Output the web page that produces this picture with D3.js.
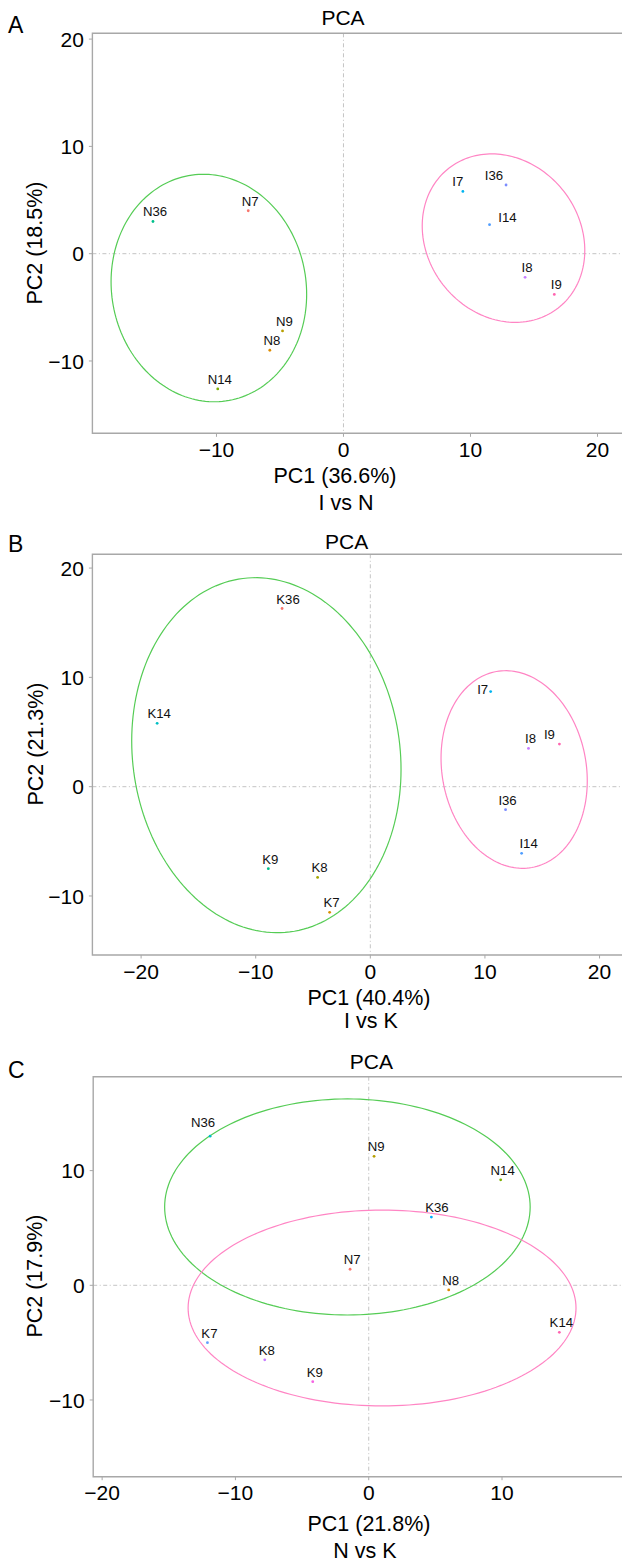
<!DOCTYPE html>
<html>
<head>
<meta charset="utf-8">
<script src="https://cdn.jsdelivr.net/npm/d3@7"></script>
<style>
    body { margin: 0; background: #fff; }
    svg { display: block; font-family: "Liberation Sans", Arial, sans-serif; }
</style>
</head>
<body>
<div id="chart"></div>
<script>
// ---- data ----
// A: I vs N
var namesA = ['N36', 'N7', 'N9', 'N8', 'N14', 'I7', 'I36', 'I14', 'I8', 'I9'];
var pc1A = [-15.0, -7.5, -4.8, -5.8, -9.9, 9.4, 12.8, 11.5, 14.3, 16.6];
var pc2A = [3.0, 4.0, -7.2, -9.0, -12.6, 5.8, 6.4, 2.7, -2.2, -3.8];
// ellipses: [centre x, centre y, half width, half height, correlation]
var ellipsesA = [[-10.6, -3.2, 7.7, 10.6, -0.055], [12.6, 1.45, 6.4, 7.85, -0.145]];

// B: I vs K
var namesB = ['K36', 'K14', 'K9', 'K8', 'K7', 'I7', 'I8', 'I9', 'I36', 'I14'];
var pc1B = [-7.7, -18.6, -8.9, -4.6, -3.55, 10.5, 13.8, 16.5, 11.8, 13.2];
var pc2B = [16.3, 5.8, -7.5, -8.3, -11.5, 8.7, 3.5, 3.9, -2.1, -6.1];
var ellipsesB = [[-9.07, 2.88, 11.75, 16.24, -0.08], [12.55, 1.57, 6.38, 9.04, -0.115]];

// C: N vs K
var namesC = ['N36', 'N9', 'N14', 'K36', 'N7', 'N8', 'K14', 'K7', 'K8', 'K9'];
var pc1C = [-11.9, 0.4, 9.9, 4.7, -1.4, 6.0, 14.3, -12.1, -7.8, -4.2];
var pc2C = [13.0, 11.25, 9.2, 5.95, 1.4, -0.4, -4.1, -5.0, -6.5, -8.4];
var ellipsesC = [[-1.6, 6.83, 13.71, 9.42, 0], [1.0, -1.98, 14.55, 8.54, 0]];

var pc1Share = ['36.6%', '40.4%', '21.8%'];
var pc2Share = ['18.5%', '21.3%', '17.9%'];
var comparisons = ['I vs N', 'I vs K', 'N vs K'];

var xTicksA = [-10, 0, 10, 20], yTicksA = [-10, 0, 10, 20];
var xTicksB = [-20, -10, 0, 10, 20], yTicksB = [-10, 0, 10, 20];
var xTicksC = [-20, -10, 0, 10], yTicksC = [-10, 0, 10];

// sample colours (ggplot hue style)
var sampleColors = {
    N7: '#F8766D', N8: '#DE8C00', N9: '#B79F00', N14: '#7CAE00', N36: '#00C08B',
    I7: '#00B4F0', I36: '#7B8CFF', I14: '#4F9DFF', I8: '#C77CFF', I9: '#FF64B0',
    K36: '#F8766D', K7: '#D89000', K8: '#A3A500', K9: '#00C08B', K14: '#00BFC4'
};
var sampleColorsC = {
    N36: '#00BFC4', K36: '#00A9FF', K14: '#FF64B0', K7: '#619CFF', K8: '#C77CFF', K9: '#F564E3'
};
var ellipseColors = ['#55CC55', '#FF85C4'];

// ---- layout ----
var W = 622, H = 1566;
var svg = d3.select('#chart').append('svg').attr('width', W).attr('height', H);

var panels = [
    {letter: 'A', names: namesA, x: pc1A, y: pc2A, ell: ellipsesA, xt: xTicksA, yt: yTicksA,
     left: 92.4, top: 33.3, bottom: 433.3, xd: [-19.77, 21.93], yd: [-16.74, 20.54],
     titleX: 343, titleY: 25, letterY: 33, xlabX: 335, xlabY: 483, subX: 346, subY: 509.5, ylabX: 41.5, ylabY: 243,
     nudge: {I7: [-5, -5], I36: [-12, -5], I14: [18, -3]}, colors: {}},
    {letter: 'B', names: namesB, x: pc1B, y: pc2B, ell: ellipsesB, xt: xTicksB, yt: yTicksB,
     left: 92.4, top: 554.3, bottom: 955, xd: [-24.25, 21.96], yd: [-15.4, 21.26],
     titleX: 346.7, titleY: 549.3, letterY: 551.7, xlabX: 369, xlabY: 1005, subX: 371, subY: 1028.3, ylabX: 43, ylabY: 744,
     nudge: {K36: [6, -5], I7: [-8, 2.5], I9: [-10, -5], I14: [7, -5]}, colors: {}},
    {letter: 'C', names: namesC, x: pc1C, y: pc2C, ell: ellipsesC, xt: xTicksC, yt: yTicksC,
     left: 93.2, top: 1076.7, bottom: 1476.7, xd: [-20.67, 19.0], yd: [-16.69, 18.19],
     titleX: 371.3, titleY: 1069.3, letterY: 1078.3, xlabX: 369, xlabY: 1530.7, subX: 365, subY: 1558.3, ylabX: 41.5, ylabY: 1276,
     nudge: {N36: [-7, -9.6], K36: [5.5, -5]}, colors: sampleColorsC}
];

var axisColor = '#A8A8A8';
var fmt = function (v) { return v < 0 ? '\u2212' + Math.abs(v) : String(v); };

panels.forEach(function (p, pi) {
    var xScale = d3.scaleLinear().domain(p.xd).range([p.left, W]);
    var yScale = d3.scaleLinear().domain(p.yd).range([p.bottom, p.top]);
    var g = svg.append('g');

    var clipId = 'clip' + pi;
    g.append('clipPath').attr('id', clipId)
        .append('rect')
        .attr('x', p.left).attr('y', p.top)
        .attr('width', W - p.left).attr('height', p.bottom - p.top);

    var plot = g.append('g').attr('clip-path', 'url(#' + clipId + ')');

    // zero reference lines
    plot.append('line')
        .attr('x1', p.left).attr('x2', W)
        .attr('y1', yScale(0)).attr('y2', yScale(0))
        .attr('stroke', '#BDBDBD').attr('stroke-width', 0.9)
        .attr('stroke-dasharray', '4,2.5,1,2.5');
    plot.append('line')
        .attr('x1', xScale(0)).attr('x2', xScale(0))
        .attr('y1', p.top).attr('y2', p.bottom)
        .attr('stroke', '#BDBDBD').attr('stroke-width', 0.9)
        .attr('stroke-dasharray', '4,2.5,1,2.5');

    // confidence ellipses
    var line = d3.line()
        .x(function (d) { return xScale(d[0]); })
        .y(function (d) { return yScale(d[1]); })
        .curve(d3.curveLinearClosed);
    p.ell.forEach(function (e, ei) {
        var pts = d3.range(0, 2 * Math.PI, Math.PI / 90).map(function (t) {
            return [e[0] + e[2] * Math.cos(t),
                    e[1] + e[3] * (e[4] * Math.cos(t) + Math.sqrt(1 - e[4] * e[4]) * Math.sin(t))];
        });
        plot.append('path')
            .attr('d', line(pts))
            .attr('fill', 'none')
            .attr('stroke', ellipseColors[ei])
            .attr('stroke-width', 1.2);
    });

    // samples
    var data = p.names.map(function (n, i) { return {name: n, x: p.x[i], y: p.y[i]}; });
    plot.selectAll('circle.pt').data(data).enter()
        .append('circle')
        .attr('class', 'pt')
        .attr('cx', function (d) { return xScale(d.x); })
        .attr('cy', function (d) { return yScale(d.y); })
        .attr('r', 1.4)
        .attr('fill', function (d) { return p.colors[d.name] || sampleColors[d.name]; });

    plot.selectAll('text.lab').data(data).enter()
        .append('text')
        .attr('class', 'lab')
        .attr('x', function (d) { return xScale(d.x) + (p.nudge[d.name] ? p.nudge[d.name][0] : 2); })
        .attr('y', function (d) { return yScale(d.y) + (p.nudge[d.name] ? p.nudge[d.name][1] : -5); })
        .attr('text-anchor', 'middle')
        .attr('font-size', 13.2)
        .attr('fill', '#111')
        .text(function (d) { return d.name; });

    // frame: left, top, bottom
    g.append('path')
        .attr('d', 'M' + W + ',' + p.top + 'H' + p.left + 'V' + p.bottom + 'H' + W)
        .attr('fill', 'none')
        .attr('stroke', axisColor)
        .attr('stroke-width', 1.4);

    // ticks
    p.xt.forEach(function (v) {
        g.append('line')
            .attr('x1', xScale(v)).attr('x2', xScale(v))
            .attr('y1', p.bottom).attr('y2', p.bottom + 3.5)
            .attr('stroke', axisColor).attr('stroke-width', 1);
        g.append('text')
            .attr('x', xScale(v)).attr('y', p.bottom + 23.5)
            .attr('text-anchor', 'middle')
            .attr('font-size', 21)
            .text(fmt(v));
    });
    p.yt.forEach(function (v) {
        g.append('line')
            .attr('x1', p.left - 3.5).attr('x2', p.left)
            .attr('y1', yScale(v)).attr('y2', yScale(v))
            .attr('stroke', axisColor).attr('stroke-width', 1);
        g.append('text')
            .attr('x', p.left - 8.5).attr('y', yScale(v))
            .attr('dy', '0.36em')
            .attr('text-anchor', 'end')
            .attr('font-size', 21)
            .text(fmt(v));
    });

    // titles
    g.append('text')
        .attr('x', 8).attr('y', p.letterY)
        .attr('font-size', 23)
        .text(p.letter);
    g.append('text')
        .attr('x', p.titleX).attr('y', p.titleY)
        .attr('text-anchor', 'middle')
        .attr('font-size', 21)
        .text('PCA');
    g.append('text')
        .attr('x', p.xlabX).attr('y', p.xlabY)
        .attr('text-anchor', 'middle')
        .attr('font-size', 21.5)
        .text('PC1 (' + pc1Share[pi] + ')');
    g.append('text')
        .attr('x', p.subX).attr('y', p.subY)
        .attr('text-anchor', 'middle')
        .attr('font-size', 21.5)
        .text(comparisons[pi]);
    g.append('text')
        .attr('transform', 'translate(' + p.ylabX + ',' + p.ylabY + ') rotate(-90)')
        .attr('text-anchor', 'middle')
        .attr('font-size', 21.5)
        .text('PC2 (' + pc2Share[pi] + ')');
});
</script>
</body>
</html>
